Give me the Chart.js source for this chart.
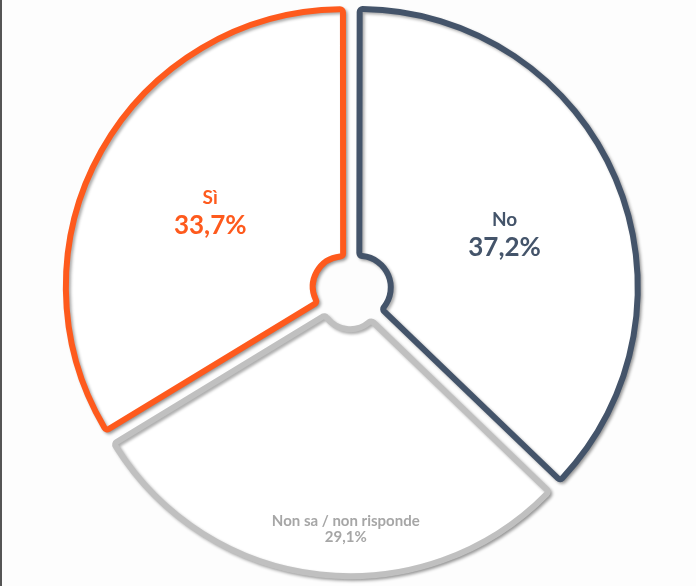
<!DOCTYPE html>
<html>
<head>
<meta charset="utf-8">
<script src="https://cdn.jsdelivr.net/npm/chart.js@4"></script>
<style>
  html, body { margin: 0; padding: 0; background: #fdfdfd; }
  body { width: 696px; height: 586px; overflow: hidden; position: relative; }
  #edge { position: absolute; left: 0; top: 0; width: 2px; height: 586px; background: #555; }
  #c { position: absolute; left: 0; top: -6px; }
</style>
</head>
<body>
<div id="edge"></div>
<canvas id="c" width="696" height="594"></canvas>
<script>
// Data (clockwise from 12 o'clock)
const categories = ['No', 'Non sa / non risponde', 'Sì'];
const values = [37.2, 29.1, 33.7];
const valueLabels = ['37,2%', '29,1%', '33,7%'];
const colors = ['#44546A', '#C0C0C0', '#FE5A1D'];
const textColors = ['#44546A', '#A6A6A6', '#FE5A1D'];

const OFFSET = 36;

const labelPlugin = {
  id: 'labelsAndShadow',
  beforeDatasetsDraw(chart) {
    const ctx = chart.ctx;
    ctx.save();
    ctx.shadowColor = 'rgba(0,0,0,0.32)';
    ctx.shadowBlur = 3;
    ctx.shadowOffsetX = 2;
    ctx.shadowOffsetY = 2;
  },
  afterDatasetsDraw(chart) {
    const ctx = chart.ctx;
    ctx.restore();
    const meta = chart.getDatasetMeta(0);
    const radial = [0.51, 0.81, 0.5];
    const angular = [0.52, 0.45, 0.5];
    const styles = [
      {f1: 'bold 19px Lato', f2: 'bold 26px Lato', gap: 28},
      {f1: 'bold 15px Lato', f2: 'bold 15px Lato', gap: 16},
      {f1: 'bold 19px Lato', f2: 'bold 26px Lato', gap: 28}
    ];
    meta.data.forEach((arc, i) => {
      const p = arc.getProps(['x','y','startAngle','endAngle','innerRadius','outerRadius'], true);
      const mid = (p.startAngle + p.endAngle) / 2;
      const ang = p.startAngle + (p.endAngle - p.startAngle) * angular[i];
      const d = OFFSET / 4;
      const cx = p.x + Math.cos(mid) * d;
      const cy = p.y + Math.sin(mid) * d;
      const r = p.innerRadius + (p.outerRadius - p.innerRadius) * radial[i];
      const lx = cx + Math.cos(ang) * r;
      const ly = cy + Math.sin(ang) * r;
      const s = styles[i];
      ctx.save();
      ctx.fillStyle = textColors[i];
      ctx.textAlign = 'center';
      ctx.textBaseline = 'middle';
      ctx.font = s.f1;
      ctx.fillText(categories[i], lx, ly - s.gap / 2);
      ctx.font = s.f2;
      ctx.fillText(valueLabels[i], lx, ly + s.gap / 2);
      ctx.restore();
    });
  }
};

new Chart(document.getElementById('c'), {
  type: 'doughnut',
  data: {
    labels: categories,
    datasets: [{
      data: values,
      backgroundColor: '#ffffff',
      borderColor: colors,
      borderWidth: 6,
      borderJoinStyle: 'round',
      borderRadius: 3,
      offset: OFFSET,
      hoverOffset: 0
    }]
  },
  options: {
    responsive: false,
    animation: false,
    cutout: 29,
    rotation: 0,
    layout: { padding: { left: 6 } },
    plugins: {
      legend: { display: false },
      tooltip: { enabled: false }
    },
    events: []
  },
  plugins: [labelPlugin]
});
</script>
</body>
</html>
